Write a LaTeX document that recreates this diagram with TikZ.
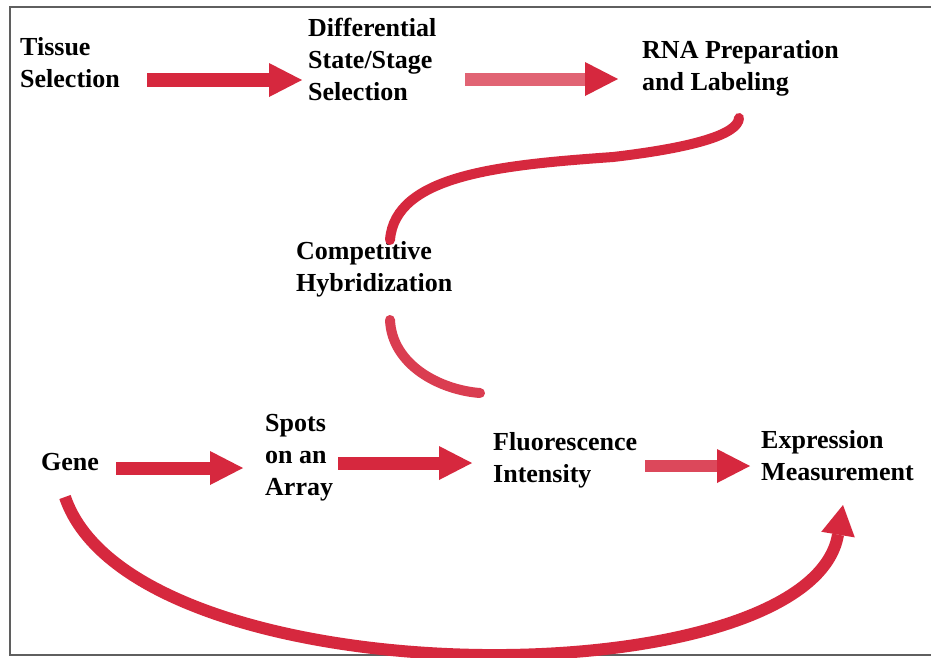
\documentclass[tikz,border=0pt]{standalone}
\usepackage{fontspec}
\setmainfont{Liberation Serif}
\usetikzlibrary{arrows.meta,calc}
\definecolor{arrred}{RGB}{214,40,62}
\definecolor{framegray}{RGB}{95,95,95}
\begin{document}
\begin{tikzpicture}[x=1pt,y=-1pt,
  lbl/.style={font=\fontsize{26}{32}\selectfont\bfseries, align=left, anchor=west,
              inner sep=0pt, text height=18pt, text depth=6pt},
  blockarr/.style={draw=arrred, line width=13pt,
              -{Triangle[length=33pt,width=34pt,line width=0pt,color=arrred,fill=arrred]}},
  curvestroke/.style={draw=arrred, line width=10pt, line cap=round},
]
\useasboundingbox (0,0) rectangle (931,657);
\fill[white] (0,0) rectangle (931,657);
\draw[framegray, line width=1.6pt] (10,7) rectangle (945,655);

% nodes (anchored at the last line)
\node[lbl] (tissue) at (20,81) {Tissue\\Selection};
\node[lbl] (diff)   at (308,94) {Differential\\State/Stage\\Selection};
\node[lbl] (rna)    at (642,84) {RNA Preparation\\and Labeling};
\node[lbl] (comp)   at (296,285) {Competitive\\Hybridization};
\node[lbl] (gene)   at (41,464) {Gene};
\node[lbl] (spots)  at (265,489) {Spots\\on an\\Array};
\node[lbl] (fluor)  at (493,476) {Fluorescence\\Intensity};
\node[lbl] (expr)   at (761,474) {Expression\\Measurement};

% straight block arrows
\draw[blockarr, line width=14pt] ($(tissue.west)+(127,-1)$) -- ($(diff.west)+(-6,-14)$);
\draw[blockarr, draw=arrred!72, line width=13pt] ($(diff.west)+(157,-15)$) -- ($(rna.west)+(-24,-5)$);
\draw[blockarr] ($(gene.west)+(75,4)$) -- ($(spots.west)+(-22,-21)$);
\draw[blockarr] ($(spots.west)+(73,-26)$) -- ($(fluor.west)+(-21,-13)$);
\draw[blockarr, draw=arrred!85, line width=12pt] ($(fluor.west)+(152,-10)$) -- ($(expr.west)+(-11,-8)$);

% curves through Competitive Hybridization
\draw[curvestroke] ($(rna.west)+(97,34)$)
   .. controls ($(rna.west)+(96,51)$) and (690,148) .. (613,157)
   .. controls (500,165) and (395,175) .. ($(comp.west)+(94,-45)$);
\draw[curvestroke, draw=arrred!90] ($(comp.west)+(94,35)$)
   .. controls (392,365) and (440,390) .. (480,393);

% big arc from Gene to Expression Measurement
\draw[draw=arrred, line width=12pt,
      -{Triangle[length=30pt,width=34pt,line width=0pt,color=arrred,fill=arrred]}]
   ($(gene.west)+(24,33)$) .. controls (134,701) and (810,701) .. ($(expr.west)+(82,31)$);
\end{tikzpicture}
\end{document}
